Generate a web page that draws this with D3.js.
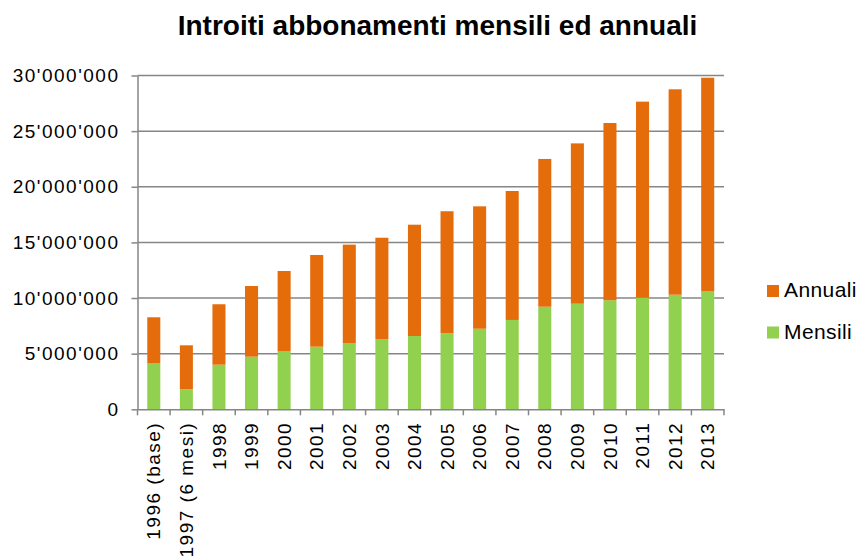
<!DOCTYPE html>
<html lang="it">
<head>
<meta charset="UTF-8">
<title>Introiti abbonamenti</title>
<script src="https://d3js.org/d3.v7.min.js"></script>
<style>
  body { margin: 0; background: white; }
  svg { display: block; font-family: "Liberation Sans", Arial, sans-serif; }
</style>
</head>
<body>
<svg width="861" height="557"></svg>
<script>
// categories and values
const anni = ["1996 (base)", "1997 (6 mesi)", "1998", "1999", "2000", "2001", "2002", "2003", "2004",
  "2005", "2006", "2007", "2008", "2009", "2010", "2011", "2012", "2013"];
const mensili = [4160000, 1800000, 4010000, 4730000, 5240000, 5630000, 5960000, 6320000, 6590000,
  6830000, 7240000, 8030000, 9220000, 9490000, 9800000, 10030000, 10300000, 10630000];
const totali = [8270000, 5750000, 9440000, 11080000, 12430000, 13870000, 14800000, 15420000, 16590000,
  17800000, 18240000, 19620000, 22500000, 23900000, 25730000, 27650000, 28760000, 29800000];
const annuali = totali.map((t, i) => t - mensili[i]);
const yTicks = [0, 5000000, 10000000, 15000000, 20000000, 25000000, 30000000];

const verde = "#92d050", arancio = "#e46c0a", grigio = "#868686";

const svg = d3.select("svg");
const mLeft = 137.5, mRight = 724, mTop = 75.5, mBottom = 409.3;

const x = d3.scaleBand().domain(anni).range([mLeft, mRight]).paddingInner(0.6).paddingOuter(0.3);
const y = d3.scaleLinear().domain([0, 30000000]).range([mBottom, mTop]);

const fmt = v => d3.format(",")(v).replace(/,/g, "'");

// title
svg.append("text")
  .attr("x", 437.5).attr("y", 35)
  .attr("text-anchor", "middle")
  .attr("font-size", 28).attr("font-weight", "bold")
  .text("Introiti abbonamenti mensili ed annuali");

// gridlines
svg.append("g").selectAll("line")
  .data(yTicks.filter(d => d > 0))
  .join("line")
  .attr("x1", mLeft).attr("x2", mRight)
  .attr("y1", d => y(d)).attr("y2", d => y(d))
  .attr("stroke", grigio).attr("stroke-width", 1.5);

// stacked bars
const stack = anni.map((a, i) => ({ anno: a, m: mensili[i], a: annuali[i] }));
const barre = svg.append("g");
barre.selectAll("rect.m").data(stack).join("rect")
  .attr("x", d => x(d.anno)).attr("width", x.bandwidth())
  .attr("y", d => y(d.m)).attr("height", d => y(0) - y(d.m))
  .attr("fill", verde);
barre.selectAll("rect.a").data(stack).join("rect")
  .attr("x", d => x(d.anno)).attr("width", x.bandwidth())
  .attr("y", d => y(d.m + d.a)).attr("height", d => y(d.m) - y(d.m + d.a))
  .attr("fill", arancio);

// y axis
const yAxis = svg.append("g")
  .attr("transform", `translate(${mLeft},0)`)
  .call(d3.axisLeft(y).tickValues(yTicks).tickFormat(fmt).tickSize(6).tickSizeOuter(0));
yAxis.select(".domain").attr("stroke", grigio).attr("stroke-width", 1.5);
yAxis.selectAll(".tick line").attr("stroke", grigio).attr("stroke-width", 1.5);
yAxis.selectAll(".tick text").attr("font-size", 19).attr("fill", "#000")
  .attr("letter-spacing", 1.5)
  .attr("x", -18).attr("font-family", "Liberation Sans, Arial, sans-serif");

// x axis
const xAxis = svg.append("g")
  .attr("transform", `translate(0,${mBottom})`)
  .call(d3.axisBottom(x).tickSize(0).tickSizeOuter(0));
xAxis.select(".domain").attr("stroke", grigio).attr("stroke-width", 1.5);
xAxis.selectAll(".tick text")
  .attr("font-size", 19).attr("fill", "#000")
  .attr("letter-spacing", 1.5)
  .attr("font-family", "Liberation Sans, Arial, sans-serif")
  .attr("transform", "rotate(-90)")
  .attr("text-anchor", "end")
  .attr("x", -12.5).attr("y", 0).attr("dy", "0.35em");
// category boundary ticks
const bordi = d3.range(anni.length + 1).map(i => mLeft + i * x.step());
xAxis.append("g").selectAll("line").data(bordi).join("line")
  .attr("x1", d => d).attr("x2", d => d)
  .attr("y1", 0).attr("y2", 6)
  .attr("stroke", grigio).attr("stroke-width", 1.5);

// legend
const legenda = [{ nome: "Annuali", col: arancio }, { nome: "Mensili", col: verde }];
const lg = svg.append("g").selectAll("g").data(legenda).join("g")
  .attr("transform", (d, i) => `translate(767,${285 + i * 41.5})`);
lg.append("rect").attr("width", 12).attr("height", 12).attr("fill", d => d.col);
lg.append("text").attr("x", 17).attr("y", 12)
  .attr("font-size", 21).attr("letter-spacing", 0.4).text(d => d.nome);
</script>
</body>
</html>
